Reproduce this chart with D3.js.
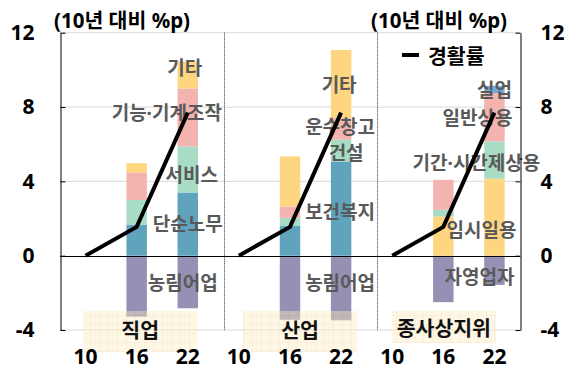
<!DOCTYPE html>
<html>
<head>
<meta charset="utf-8">
<script src="https://cdn.jsdelivr.net/npm/d3@7"></script>
<style>
  body { margin: 0; background: #fff; }
  svg { display: block; font-family: "Noto Sans", "Noto Sans CJK KR", sans-serif; }
</style>
</head>
<body>
<svg id="chart" width="565" height="370"></svg>
<script>
// Years compared against 2010, per panel
const years = ["10", "16", "22"];
const panels = ["직업", "산업", "종사상지위"];

// Change in economic activity participation rate (%p vs 2010)
const participation = [0, 1.55, 7.7];

// 직업 (occupation)
const occNames = ["농림어업", "단순노무", "서비스", "기능·기계조작", "기타"];
const occValues = [
  [0, -3.28, -2.83],
  [0, 1.67, 3.4],
  [0, 1.33, 2.48],
  [0, 1.48, 3.12],
  [0, 0.5, 1.45]
];

// 산업 (industry)
const indNames = ["농림어업", "보건복지", "건설", "운수창고", "기타"];
const indValues = [
  [0, -3.45, -3.48],
  [0, 1.6, 5.07],
  [0, 0.44, 1.17],
  [0, 0.61, 1.16],
  [0, 2.69, 3.67]
];

// 종사상지위 (employment status)
const statNames = ["자영업자", "임시일용", "기간·시간제상용", "일반상용", "실업"];
const statValues = [
  [0, -2.5, -1.57],
  [0, 2.11, 4.14],
  [0, 0.36, 2.01],
  [0, 1.61, 2.6],
  [0, 0, 0.39]
];

const yTicks = [-4, 0, 4, 8, 12];

// Colours per series, by panel
const purple = "#9590b4", blue = "#5fa3bd", green = "#a8dcc5",
      pink = "#f3b3ae", yellow = "#fed680", sky = "#73a9df";
const occColors = [purple, blue, green, pink, yellow];
const indColors = [purple, blue, green, pink, yellow];
const statColors = [purple, yellow, green, pink, sky];

const groups = [
  { panel: panels[0], names: occNames, values: occValues, colors: occColors },
  { panel: panels[1], names: indNames, values: indValues, colors: indColors },
  { panel: panels[2], names: statNames, values: statValues, colors: statColors }
];

// Series label placement: y in data units, dx in px from the "22" bar centre
const labelLayout = [
  [{ y: -1.47, dx: -5 }, { y: 1.7, dx: 0 }, { y: 4.34, dx: 4 }, { y: 7.68, dx: -21 }, { y: 10.1, dx: -3 }],
  [{ y: -1.47, dx: -1 }, { y: 2.35, dx: -1 }, { y: 5.53, dx: 5 }, { y: 6.93, dx: -1 }, { y: 9.19, dx: -2 }],
  [{ y: -1.15, dx: -15 }, { y: 1.38, dx: -13 }, { y: 4.99, dx: -18 }, { y: 7.41, dx: -17 }, { y: 8.92, dx: 0 }]
];
// Panel name boxes: dx from "16" centre, width and height in px
const boxLayout = [
  { dx: 3.5, w: 114, h: 41 },
  { dx: 10, w: 114, h: 41 },
  { dx: 0.5, w: 104, h: 32 }
];

const svg = d3.select("#chart");
const plotLeft = 60, plotRight = 520, plotTop = 32.7, plotBottom = 330;

const keys = [];
groups.forEach(g => years.forEach(yr => keys.push(g.panel + "|" + yr)));
const x = d3.scaleBand().domain(keys).range([plotLeft, plotRight]).padding(0);
const step = x.step();
const cx = k => x(k) + step / 2;
const barW = step * 0.4;
const y = d3.scaleLinear().domain([-4, 12]).range([plotBottom, plotTop]);

const defs = svg.append("defs");
const pat = defs.append("pattern").attr("id", "boxgrid")
  .attr("width", 9).attr("height", 9).attr("patternUnits", "userSpaceOnUse");
pat.append("rect").attr("width", 9).attr("height", 9).attr("fill", "#ffecc0");
pat.append("path").attr("d", "M0,0.5H9M0.5,0V9").attr("stroke", "#f3dca4").attr("stroke-width", 1);

// Gridlines
svg.append("g").selectAll("line").data(yTicks.filter(t => t !== 0)).join("line")
  .attr("x1", plotLeft).attr("x2", plotRight)
  .attr("y1", d => y(d)).attr("y2", d => y(d))
  .attr("stroke", "#d9d9d9").attr("stroke-width", 1);

// Stacked bars
const barsG = svg.append("g");
groups.forEach(g => {
  years.forEach((yr, yi) => {
    let pos = 0, neg = 0;
    const segs = [];
    g.values.forEach((vals, si) => {
      const v = vals[yi];
      if (v === 0) return;
      if (v > 0) { segs.push({ y0: pos, y1: pos + v, c: g.colors[si] }); pos += v; }
      else { segs.push({ y0: neg + v, y1: neg, c: g.colors[si] }); neg += v; }
    });
    const k = g.panel + "|" + yr;
    barsG.selectAll(null).data(segs).join("rect")
      .attr("x", cx(k) - barW / 2).attr("width", barW)
      .attr("y", d => y(d.y1)).attr("height", d => y(d.y0) - y(d.y1))
      .attr("fill", d => d.c);
  });
});

// Panel separators
const sepG = svg.append("g");
groups.slice(0, 2).forEach(g => {
  const sx = Math.round(cx(g.panel + "|22") + step * 0.7) + 0.5;
  sepG.append("line").attr("x1", sx).attr("x2", sx).attr("y1", plotTop).attr("y2", plotBottom)
    .attr("stroke", "#333").attr("stroke-width", 1).attr("stroke-dasharray", "1,1");
});

// Zero line
svg.append("line").attr("x1", plotLeft).attr("x2", plotRight)
  .attr("y1", Math.round(y(0)) + 0.5).attr("y2", Math.round(y(0)) + 0.5)
  .attr("stroke", "#000").attr("stroke-width", 1);

// Panel name boxes
groups.forEach((g, gi) => {
  const b = boxLayout[gi];
  const c = cx(g.panel + "|16") + b.dx;
  svg.append("rect").attr("x", c - b.w / 2).attr("y", y(-4) - 19).attr("width", b.w).attr("height", b.h)
    .attr("fill", "url(#boxgrid)").attr("opacity", 0.42);
  svg.append("text").attr("x", c).attr("y", y(-4) - 19 + b.h / 2 - (gi === 2 ? 0 : 3))
    .attr("text-anchor", "middle").attr("dominant-baseline", "central")
    .attr("font-family", "Noto Sans CJK KR").attr("font-weight", 700).attr("font-size", 20.5)
    .attr("fill", "#111").text(g.panel);
});

// Series labels
groups.forEach((g, gi) => {
  const c = cx(g.panel + "|22");
  svg.append("g").selectAll("text").data(g.names).join("text")
    .attr("x", (d, i) => c + labelLayout[gi][i].dx)
    .attr("y", (d, i) => y(labelLayout[gi][i].y))
    .attr("text-anchor", "middle").attr("dominant-baseline", "central")
    .attr("font-family", "Noto Sans, Noto Sans CJK KR").attr("font-weight", 700).attr("font-size", 19)
    .attr("fill", "#595959").text(d => d);
});

// Participation rate lines
const line = d3.line().x(d => cx(d.k)).y(d => y(d.v));
groups.forEach(g => {
  const pts = years.map((yr, i) => ({ k: g.panel + "|" + yr, v: participation[i] }));
  svg.append("path").attr("d", line(pts)).attr("fill", "none")
    .attr("stroke", "#000").attr("stroke-width", 4).attr("stroke-linejoin", "miter");
});

// Axes
const yLeft = d3.axisLeft(y).tickValues(yTicks).tickSize(-5).tickSizeOuter(0)
  .tickPadding(26).tickFormat(d => String(d));
const yRight = d3.axisRight(y).tickValues(yTicks).tickSize(-5).tickSizeOuter(0)
  .tickPadding(20).tickFormat(d => String(d));
[[yLeft, plotLeft], [yRight, plotRight]].forEach(([ax, px]) => {
  const gAx = svg.append("g").attr("transform", `translate(${px + 0.5},0)`).call(ax);
  gAx.select(".domain").attr("stroke", "#000");
  gAx.selectAll(".tick line").attr("stroke", "#000");
  gAx.selectAll(".tick text").attr("font-size", 21).attr("font-weight", 700)
    .attr("fill", "#000").attr("font-family", "Noto Sans, sans-serif");
});

// Year labels along the bottom
svg.append("g").selectAll("text").data(keys).join("text")
  .attr("x", d => cx(d)).attr("y", 364)
  .attr("text-anchor", "middle").attr("font-size", 21).attr("font-weight", 700)
  .attr("fill", "#000").text(d => d.split("|")[1]);

// Unit notes
[54, 371].forEach(tx => {
  svg.append("text").attr("x", tx).attr("y", 20).attr("dominant-baseline", "central")
    .attr("font-family", "Noto Sans, Noto Sans CJK KR")
    .attr("font-weight", 700).attr("font-size", 20.5).attr("fill", "#000").text("(10년 대비 %p)");
});

// Legend
svg.append("line").attr("x1", 402).attr("x2", 419).attr("y1", 55).attr("y2", 55)
  .attr("stroke", "#000").attr("stroke-width", 4);
svg.append("text").attr("x", 428).attr("y", 55).attr("dominant-baseline", "central")
  .attr("font-family", "Noto Sans CJK KR").attr("font-weight", 700).attr("font-size", 20.5)
  .attr("fill", "#000").text("경활률");
</script>
</body>
</html>
